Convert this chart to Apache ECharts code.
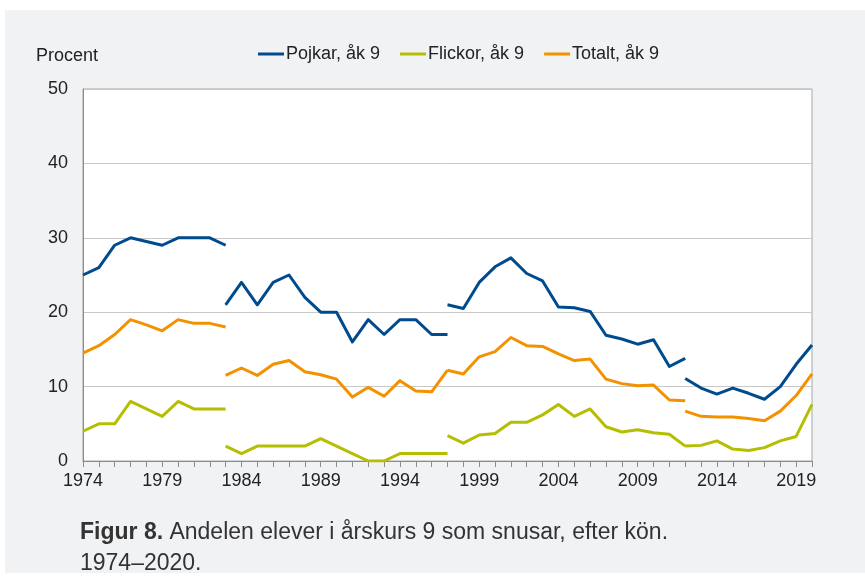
<!DOCTYPE html>
<html>
<head>
<meta charset="utf-8">
<script src="https://cdn.jsdelivr.net/npm/echarts@6/dist/echarts.min.js"></script>
<style>
  html, body { margin: 0; padding: 0; background: #fff; }
  #wrap { position: relative; width: 865px; height: 583px; }
  #panel { position: absolute; left: 5px; top: 10px; width: 860px; height: 563px; background: #f1f2f4; }
  #chart { position: absolute; left: 0; top: 0; width: 865px; height: 583px; }
</style>
</head>
<body>
<div id="wrap">
  <div id="panel"></div>
  <div id="chart"></div>
</div>
<script>
  // years on the x axis
  var years = [];
  for (var y = 1974; y <= 2020; y++) years.push(String(y));

  // the survey changed method in 1983, 1997 and 2012, so each line is drawn in pieces
  var segStart = ['1974', '1983', '1997', '2012'];

  var pojkar1 = [25, 26, 29, 30, 29.5, 29, 30, 30, 30, 29];
  var pojkar2 = [21, 24, 21, 24, 25, 22, 20, 20, 16, 19, 17, 19, 19, 17, 17];
  var pojkar3 = [21, 20.5, 24, 26.1, 27.3, 25.2, 24.2, 20.7, 20.6, 20.1, 16.9, 16.4, 15.7, 16.3, 12.7, 13.8];
  var pojkar4 = [11.1, 9.8, 9.0, 9.8, 9.1, 8.3, 10.0, 13.0, 15.6];

  var flickor1 = [4, 5, 5, 8, 7, 6, 8, 7, 7, 7];
  var flickor2 = [2, 1, 2, 2, 2, 2, 3, 2, 1, 0, 0, 1, 1, 1, 1];
  var flickor3 = [3.4, 2.4, 3.5, 3.7, 5.2, 5.2, 6.2, 7.6, 6.0, 7.0, 4.6, 3.9, 4.2, 3.8, 3.6, 2.0];
  var flickor4 = [2.0, 2.1, 2.7, 1.6, 1.4, 1.8, 2.7, 3.3, 7.6];

  var totalt1 = [14.5, 15.5, 17, 19, 18.3, 17.5, 19, 18.5, 18.5, 18];
  var totalt2 = [11.5, 12.5, 11.5, 13, 13.5, 12, 11.6, 11, 8.6, 9.9, 8.7, 10.8, 9.4, 9.3, 12.2];
  var totalt3 = [12.2, 11.7, 14, 14.7, 16.6, 15.5, 15.4, 14.4, 13.5, 13.7, 11, 10.4, 10.1, 10.2, 8.2, 8.1];
  var totalt4 = [6.7, 6.0, 5.9, 5.9, 5.7, 5.4, 6.7, 8.8, 11.7];

  var yTicks = [0, 10, 20, 30, 40, 50];

  var groups = [
    { name: 'Pojkar, åk 9', color: '#004b8d', segs: [pojkar1, pojkar2, pojkar3, pojkar4] },
    { name: 'Flickor, åk 9', color: '#b5be00', segs: [flickor1, flickor2, flickor3, flickor4] },
    { name: 'Totalt, åk 9', color: '#f39200', segs: [totalt1, totalt2, totalt3, totalt4] }
  ];

  function pad(vals, startYear) {
    var out = years.map(function () { return null; });
    var i0 = years.indexOf(startYear);
    vals.forEach(function (v, i) { out[i0 + i] = v; });
    return out;
  }

  var series = [];
  groups.forEach(function (g) {
    g.segs.forEach(function (s, k) {
      series.push({
        name: g.name,
        type: 'line',
        data: pad(s, segStart[k]),
        showSymbol: false,
        connectNulls: false,
        color: g.color,
        lineStyle: { width: 3, color: g.color, join: 'round' },
        emphasis: { disabled: true }
      });
    });
  });

  var font = 'Liberation Sans, Arial, sans-serif';
  var chart = echarts.init(document.getElementById('chart'), null, { renderer: 'canvas' });
  chart.setOption({
    animation: false,
    backgroundColor: 'transparent',
    textStyle: { fontFamily: font },
    legend: {
      data: groups.map(function (g) { return g.name; }),
      top: 40,
      left: 253,
      itemWidth: 26,
      itemHeight: 3,
      itemGap: 20,
      icon: 'rect',
      textStyle: { fontSize: 18, color: '#222', fontFamily: font, padding: [0, 0, 0, -3] }
    },
    grid: {
      left: 83, right: 53, top: 89, bottom: 122,
      show: true, backgroundColor: '#fff', borderColor: '#a6a6a6', borderWidth: 1
    },
    xAxis: {
      type: 'category',
      data: years,
      boundaryGap: false,
      axisLine: { lineStyle: { color: '#8c8c8c', width: 1 } },
      axisTick: { interval: 0, length: 6, lineStyle: { color: '#8c8c8c' } },
      axisLabel: { interval: 4, margin: 11, fontSize: 18, color: '#222', fontFamily: font },
      splitLine: { show: false }
    },
    yAxis: {
      type: 'value',
      min: yTicks[0],
      max: yTicks[yTicks.length - 1],
      interval: 10,
      axisLine: { show: true, lineStyle: { color: '#8c8c8c' } },
      axisTick: { show: false },
      axisLabel: { margin: 15, fontSize: 18, color: '#222', fontFamily: font },
      splitLine: { lineStyle: { color: '#c8c8c8', width: 1 } }
    },
    graphic: [
      {
        type: 'text', left: 36, top: 47,
        style: { text: 'Procent', fontSize: 18, fill: '#222', fontFamily: font }
      },
      {
        type: 'text', left: 80, top: 517,
        style: {
          text: '{b|Figur 8.} Andelen elever i årskurs 9 som snusar, efter kön.\n1974–2020.',
          fontSize: 23, lineHeight: 31, fill: '#333', fontFamily: font,
          rich: { b: { fontWeight: 'bold', fontSize: 23, fill: '#333', fontFamily: font } }
        }
      }
    ],
    series: series
  });
</script>
</body>
</html>
